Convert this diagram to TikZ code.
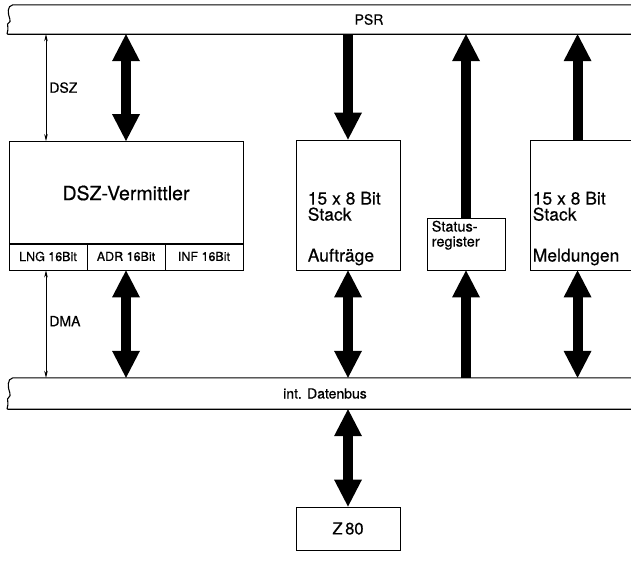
\documentclass[tikz,border=0pt]{standalone}
\usepackage{fontspec}
\setmainfont{TeX Gyre Heros}[FakeBold=0.5]
\usetikzlibrary{arrows.meta, calc, positioning}
\tikzset{
	boxnode/.style={draw=black, line width=0.9pt, inner sep=0pt}
}
\tikzset{
	bustext/.style={font=\fontsize{14}{16}\selectfont}
}

\begin{document}
\begin{tikzpicture}[x=1pt, y=-1pt]

  \tikzset{
    fat/.style={line width=10pt},
    fattip/.tip={Triangle[width=28pt,length=27pt,line width=0pt]},
    fatboth/.style={fat, fattip-fattip},
    fatend/.style={fat, -fattip},
    dimline/.style={line width=0.7pt, {Stealth[length=7pt,width=3.5pt]}-{Stealth[length=7pt,width=3.5pt]}},
    busline/.style={line width=1.1pt},
    boxtext/.style={font=\fontsize{17.5}{20}\selectfont, inner sep=0pt, anchor=base west},
    fieldtext/.style={font=\fontsize{12.5}{14}\selectfont}
  }

  \useasboundingbox (0,0) rectangle (631,562);

  % busse
  \node[minimum width=625pt, minimum height=29pt, inner sep=0pt] (psr) at (320.5,19.5) {};
  \node[minimum width=625pt, minimum height=31pt, inner sep=0pt] (datenbus) at (320.5,393.5) {};
  \node[bustext] (psrtext) at (369,19.5) {PSR};
  \node[bustext] (bustxt) at (325,393.5) {int. Datenbus};

  \draw[busline] (psr.north east) -- ($(psr.north west)+(5,0)$)
    .. controls +(-6,1) and +(-2,-5) .. ++(-3,14)
    .. controls +(2,5) and +(-2,-5) .. ++(-2,8)
    .. controls +(1,4) and +(-2,0) .. (psr.south west) -- (psr.south east);
  \draw[busline] (datenbus.north east) -- ($(datenbus.north west)+(5,0)$)
    .. controls +(-6,1) and +(-2,-5) .. ++(-3,15)
    .. controls +(2,5) and +(-2,-5) .. ++(-2,9)
    .. controls +(1,4) and +(-2,0) .. (datenbus.south west) -- (datenbus.south east);

  % DSZ-Vermittler
  \node[boxnode, minimum width=234pt, minimum height=103pt, font=\fontsize{19.5}{22}\selectfont] (vermittler) at (126,193) {DSZ-Vermittler};
  \node[boxnode, minimum width=78pt, minimum height=27pt, fieldtext] (lng) at (48,256.5) {LNG 16Bit};
  \node[boxnode, minimum width=78pt, minimum height=27pt, fieldtext] (adr) at (126,256.5) {ADR 16Bit};
  \node[boxnode, minimum width=78pt, minimum height=27pt, fieldtext] (inf) at (204,256.5) {INF 16Bit};

  % stacks und status
  \node[boxnode, minimum width=104pt, minimum height=130pt] (auftr) at (348,205) {};
  \node[boxnode, minimum width=110pt, minimum height=130pt] (meld) at (585,205) {};
  \node[boxnode, minimum width=78pt, minimum height=52pt] (status) at (466,244) {};
  \node[boxnode, minimum width=104pt, minimum height=43pt, font=\fontsize{16.5}{18}\selectfont] (zachtzig) at (348,528.5) {Z\,80};

  \node[boxtext] (auftrzeile) at ($(auftr.north west)+(12,65)$) {15 x 8 Bit};
  \node[boxtext] (auftrstack) at ($(auftr.north west)+(12,81)$) {Stack};
  \node[boxtext] (auftrname) at ($(auftr.north west)+(12,122)$) {Aufträge};
  \node[boxtext] (meldzeile) at ($(meld.north west)+(3,65)$) {15 x 8 Bit};
  \node[boxtext] (meldstack) at ($(meld.north west)+(3,81)$) {Stack};
  \node[boxtext] (meldname) at ($(meld.north west)+(3,122)$) {Meldungen};
  \node[boxtext, font=\fontsize{14.5}{17}\selectfont] (statuseins) at ($(status.north west)+(5,14)$) {Status-};
  \node[boxtext, font=\fontsize{14.5}{17}\selectfont] (statuszwei) at ($(status.north west)+(5,29)$) {register};

  \coordinate (meldpin) at ($(meld.north west)+(48,0)$);
  \coordinate (meldpout) at ($(meld.south west)+(48,0)$);
  \coordinate (dimx) at (46,0);

  % pfeile
  \draw[fatboth] (vermittler.north |- psr.south) -- (vermittler.north);
  \draw[fatboth] (adr.south) -- (adr.south |- datenbus.north);
  \draw[fatend] (auftr.north |- psr.south) -- (auftr.north);
  \draw[fatboth] (auftr.south) -- (auftr.south |- datenbus.north);
  \draw[fatend] (status.north) -- (status.north |- psr.south);
  \draw[fatend] (status.south |- datenbus.north) -- (status.south);
  \draw[fatend] (meldpin) -- (meldpin |- psr.south);
  \draw[fatboth] (meldpout) -- (meldpout |- datenbus.north);
  \draw[fatboth] (zachtzig.north |- datenbus.south) -- (zachtzig.north);

  \draw[dimline] (dimx |- psr.south) -- (dimx |- vermittler.north)
    node[midway, right, bustext, inner sep=3pt] (dsz) {DSZ};
  \draw[dimline] (dimx |- lng.south) -- (dimx |- datenbus.north)
    node[midway, right, bustext, inner sep=3pt, yshift=3pt] (dma) {DMA};

\end{tikzpicture}
\end{document}
